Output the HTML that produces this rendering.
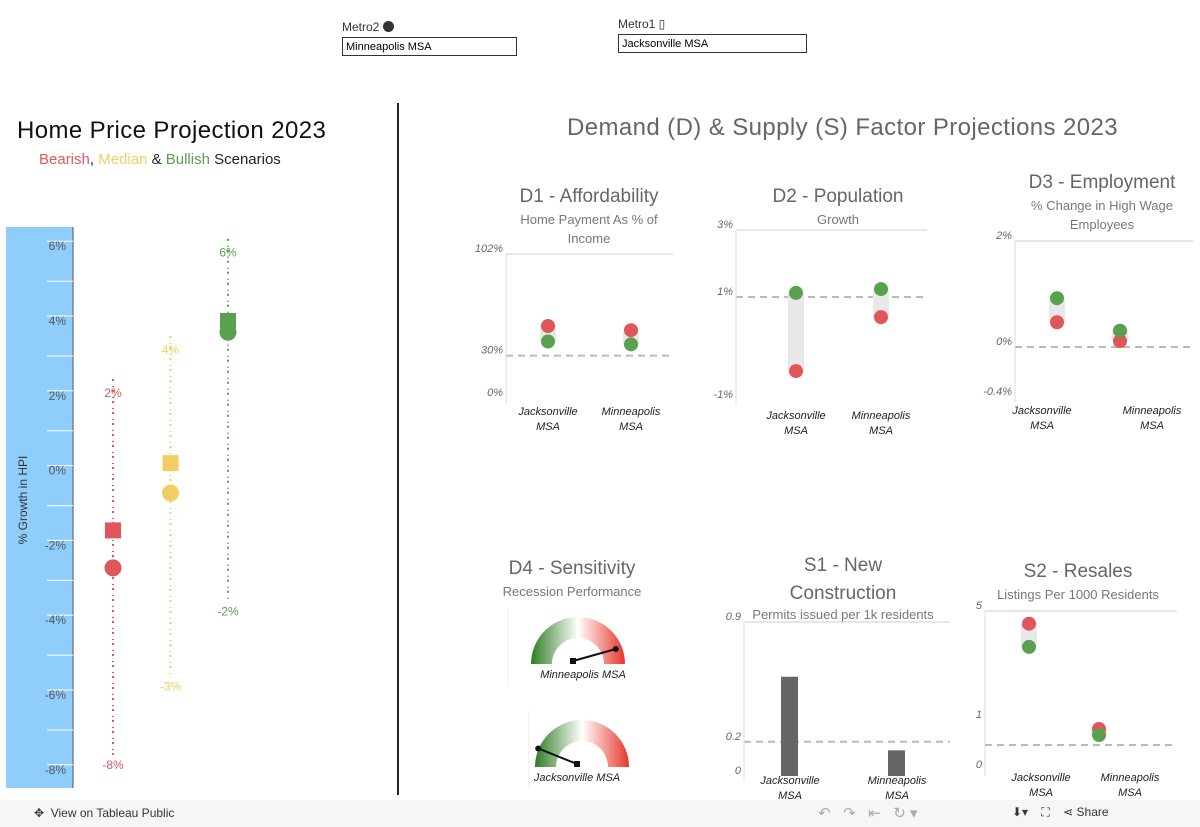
<!DOCTYPE html>
<html><head><meta charset="utf-8"><style>
body{margin:0;width:1200px;height:827px;overflow:hidden;background:#fff;font-family:"Liberation Sans",sans-serif;position:relative}
.a{position:absolute}
</style></head><body>
<div class="a" style="left:342px;top:20px;font-size:12px;color:#333">Metro2 <span style="display:inline-block;width:11px;height:11px;border-radius:50%;background:#333;vertical-align:-1px"></span></div>
<div class="a" style="left:342px;top:37px;width:175px;height:19px;border:1px solid #333;font-size:11px;line-height:18px;padding-left:3px;box-sizing:border-box">Minneapolis MSA</div>
<div class="a" style="left:618px;top:17px;font-size:12px;color:#333">Metro1 ▯</div>
<div class="a" style="left:618px;top:34px;width:189px;height:19px;border:1px solid #333;font-size:11px;line-height:18px;padding-left:3px;box-sizing:border-box">Jacksonville MSA</div>
<div class="a" style="left:397px;top:103px;width:2px;height:692px;background:#222"></div>
<div class="a" style="left:17px;top:117px;font-size:24px;color:#111;letter-spacing:0.4px">Home Price Projection 2023</div>
<div class="a" style="left:39px;top:151px;font-size:15px;color:#222"><span style="color:#e15759">Bearish</span>, <span style="color:#f1ce63">Median</span> &amp; <span style="color:#59a14f">Bullish</span> Scenarios</div>
<div class="a" style="left:567px;top:114px;font-size:24px;color:#666;letter-spacing:0.4px">Demand (D) &amp; Supply (S) Factor Projections 2023</div>

<svg class="a" style="left:0;top:0" width="1200" height="827" font-family="Liberation Sans, sans-serif">
<g id="hpi"></g><g id="panels"></g><g id="gauges"></g>
</svg>
<div class="a" style="left:0;top:800px;width:1200px;height:27px;background:#f6f6f6;font-size:12px;color:#333">
<span class="a" style="left:34px;top:6px">✥ &nbsp;View on Tableau Public</span>
<span class="a" style="left:818px;top:4px;color:#aaa;font-size:15px">↶ &nbsp; ↷ &nbsp; ⇤ &nbsp; ↻ ▾</span>
<span class="a" style="left:1012px;top:5px;color:#333">⬇▾ &nbsp;&nbsp; ⛶ &nbsp;&nbsp; ⋖ Share</span>
</div>
<script>
const NS="http://www.w3.org/2000/svg";
function mk(p,tag,at,txt){const e=document.createElementNS(NS,tag);for(const k in at)e.setAttribute(k,at[k]);if(txt!==undefined)e.textContent=txt;p.appendChild(e);return e;}
// HPI data
const hpiTicks=[6,4,2,0,-2,-4,-6,-8];
const scen=["Bearish","Median","Bullish"];
const scenHighLabel=["2%","4%","6%"];
const scenLowLabel=["-8%","-3%","-2%"];
const scenTop=[2.45,3.6,6.2];
const scenBottom=[-7.6,-5.5,-3.5];
const scenJax=[-1.6,0.2,4.0];
const scenMpls=[-2.6,-0.6,3.7];
const scenCol=["#e15759","#f1ce63","#59a14f"];
const hy=v=>470.6-v*37.4;
const hx=i=>113+i*57.5;
const H=document.getElementById('hpi');
let r=mk(H,'rect',{x:6,y:227,width:67,height:561,fill:'#8fcdfc'});

mk(H,'line',{x1:73,y1:227,x2:73,y2:788,stroke:'#555'});
hpiTicks.forEach(v=>{
  mk(H,'line',{x1:47,y1:hy(v)-5,x2:73,y2:hy(v)-5,stroke:'#fff'});
  mk(H,'line',{x1:47,y1:hy(v)+35,x2:73,y2:hy(v)+35,stroke:'#fff'});
  const t=mk(H,'text',{x:66,y:hy(v)+4,'text-anchor':'end','font-size':12,fill:'#555'},v+'%');
  
});
const yt=mk(H,'text',{x:27,y:500,transform:'rotate(-90 27 500)','text-anchor':'middle','font-size':12,fill:'#333'},'% Growth in HPI');

scen.forEach((s,i)=>{
  const x=hx(i),c=scenCol[i];
  const l=mk(H,'line',{x1:x,y1:hy(scenTop[i]),x2:x,y2:hy(scenBottom[i]),stroke:c,'stroke-width':2,'stroke-dasharray':'2 5 1 3'});
  
  mk(H,'text',{x:x,y:hy(scenTop[i])+18,'text-anchor':'middle','font-size':12,fill:c},scenHighLabel[i]);
  mk(H,'text',{x:x,y:hy(scenBottom[i])+14,'text-anchor':'middle','font-size':12,fill:c},scenLowLabel[i]);
  const q=mk(H,'rect',{x:x-8,y:hy(scenJax[i])-8,width:16,height:16,fill:c});
  
  const d=mk(H,'circle',{cx:x,cy:hy(scenMpls[i]),r:8.5,fill:c});
  
});
// Panels
const cities=["Jacksonville MSA","Minneapolis MSA"];
const d1Red=[51,48], d1Green=[40,38];
const d2Red=[-0.32,0.95], d2Green=[1.52,1.61];
const d3Red=[0.75,0.46], d3Green=[1.12,0.62];
const s1Vals=[0.58,0.15];
const s2Red=[4.6,1.29], s2Green=[3.87,1.1];
const P=document.getElementById('panels');
function title(x,y,t1,t2,t3,name){
  const g=mk(P,'g',{});
  mk(g,'text',{x:x,y:y,'text-anchor':'middle','font-size':19,fill:'#666'},t1);
  if(t2)mk(g,'text',{x:x,y:y+22,'text-anchor':'middle','font-size':13,fill:'#777'},t2);
  if(t3)mk(g,'text',{x:x,y:y+41,'text-anchor':'middle','font-size':13,fill:'#777'},t3);
}
function panel(o){
  const sy=v=>o.y0+(v-o.v0)*(o.y1-o.y0)/(o.v1-o.v0);
  o.ticks.forEach(t=>{
    const yy=t.y!==undefined?t.y:sy(t.v);
    if(t.grid)mk(P,'line',{x1:o.xl,y1:yy,x2:o.xr,y2:yy,stroke:'#ccc'});
    if(t.dash)mk(P,'line',{x1:o.xl,y1:yy,x2:o.xr,y2:yy,stroke:'#bbb','stroke-width':2,'stroke-dasharray':'7 5'});
    const tx=mk(P,'text',{x:o.lx,y:yy-2,'text-anchor':'end','font-size':11,fill:'#666','font-style':'italic'},t.label);
    
  });
  mk(P,'line',{x1:o.lx+3,y1:o.y1,x2:o.lx+3,y2:o.y0+6,stroke:'#ddd'});
  cities.forEach((c,i)=>{
    const x=o.xs[i];const parts=c.split(' ');
    const lx=o.lxs?o.lxs[i]:x;
    mk(P,'text',{x:lx,y:o.ly,'text-anchor':'middle','font-size':11,fill:'#222','font-style':'italic'},parts[0]);
    mk(P,'text',{x:lx,y:o.ly+15,'text-anchor':'middle','font-size':11,fill:'#222','font-style':'italic'},parts[1]);
    if(o.bars){
      const b=mk(P,'rect',{x:x-9,y:sy(o.bars[i]),width:17,height:sy(0)-sy(o.bars[i]),fill:'#666'});
      
    }else{
      const a=sy(o.red[i]),g=sy(o.green[i]);
      mk(P,'rect',{x:x-8,y:Math.min(a,g),width:16,height:Math.abs(a-g),fill:'#e8e8e8'});
      const rc=mk(P,'circle',{cx:x,cy:a,r:7,fill:'#e15759'});
      
      const gc=mk(P,'circle',{cx:x,cy:g,r:7,fill:'#59a14f'});
      
    }
  });
}
title(589,202,'D1 - Affordability','Home Payment As % of','Income','d1-title');
panel({v0:0,y0:398,v1:102,y1:254,xl:506,xr:673,lx:503,xs:[548,631],ly:415,red:d1Red,green:d1Green,
 ticks:[{v:102,label:'102%',grid:1},{v:30,label:'30%',dash:1},{v:0,label:'0%'}]});
title(838,202,'D2 - Population','Growth',null,'d2-title');
panel({v0:-1,y0:400,v1:3,y1:230,xl:736,xr:927,lx:733,xs:[796,881],ly:419,red:d2Red,green:d2Green,
 ticks:[{v:3,label:'3%',grid:1},{y:297,label:'1%',dash:1},{v:-1,label:'-1%'}]});
title(1102,188,'D3 - Employment','% Change in High Wage','Employees','d3-title');
panel({v0:-0.4,y0:397,v1:2,y1:241,xl:1015,xr:1193,lx:1012,xs:[1057,1120],lxs:[1042,1152],ly:414,red:d3Red,green:d3Green,
 ticks:[{v:2,label:'2%',grid:1},{y:347,label:'0%',dash:1},{v:-0.4,label:'-0.4%'}]});
title(572,574,'D4 - Sensitivity','Recession Performance',null,'d4-title');
title(843,571,'S1  - New',null,null,'s1-title');
mk(P,'text',{x:843,y:599,'text-anchor':'middle','font-size':19,fill:'#666'},'Construction');
mk(P,'text',{x:843,y:619,'text-anchor':'middle','font-size':13,fill:'#777'},'Permits issued per 1k residents');
panel({v0:0,y0:776,v1:0.9,y1:622,xl:744,xr:950,lx:741,xs:[790,897],ly:784,bars:s1Vals,
 ticks:[{v:0.9,label:'0.9',grid:1},{v:0.2,label:'0.2',dash:1},{v:0,label:'0'}]});
title(1078,577,'S2 - Resales','Listings Per 1000 Residents',null,'s2-title');
panel({v0:0,y0:770,v1:5,y1:611,xl:985,xr:1177,lx:982,xs:[1029,1099],lxs:[1041,1130],ly:781,red:s2Red,green:s2Green,
 ticks:[{v:5,label:'5',grid:1},{y:720,label:'1'},{v:0,label:'0'}]});
mk(P,'line',{x1:985,y1:745,x2:1177,y2:745,stroke:'#bbb','stroke-width':2,'stroke-dasharray':'7 5'});
// Gauges
const gaugeCity=["Minneapolis MSA","Jacksonville MSA"];
const gaugeVal=[0.85,0.2];
const G=document.getElementById('gauges');
const defs=mk(G,'defs',{});
const lg=mk(defs,'linearGradient',{id:'gg',x1:0,x2:1,y1:0,y2:0});
[['0','#2e7d22'],['0.5','#ffffff'],['1','#e8352a']].forEach(s=>mk(lg,'stop',{offset:s[0],'stop-color':s[1]}));
const gc=[[578,664],[582,767]];
gaugeVal.forEach((v,i)=>{
  const [cx,cy]=gc[i],R=47,r0=26;
  mk(G,'line',{x1:cx-70+(i?17:0),y1:cy-56,x2:cx-70+(i?17:0),y2:cy+22,stroke:'#eee'});
  const p=mk(G,'path',{d:`M${cx-R} ${cy} A${R} ${R} 0 0 1 ${cx+R} ${cy} L${cx+r0} ${cy} A${r0} ${r0} 0 0 0 ${cx-r0} ${cy} Z`,fill:'url(#gg)'});
  
  const a=Math.PI*(1-v),ox=cx-5,oy=cy-3;
  const nx=ox+48*Math.cos(a),ny=oy-48*Math.sin(a)*0.55;
  const nd=mk(G,'line',{x1:ox,y1:oy,x2:nx,y2:ny,stroke:'#111','stroke-width':2});
  
  mk(G,'circle',{cx:nx,cy:ny,r:3,fill:'#111'});
  mk(G,'rect',{x:ox-3,y:oy-3,width:6,height:6,fill:'#111'});
  mk(G,'text',{x:cx+5-(i?10:0),y:cy+14,'text-anchor':'middle','font-size':11,fill:'#222','font-style':'italic'},gaugeCity[i]);
});
</script>
</body></html>
